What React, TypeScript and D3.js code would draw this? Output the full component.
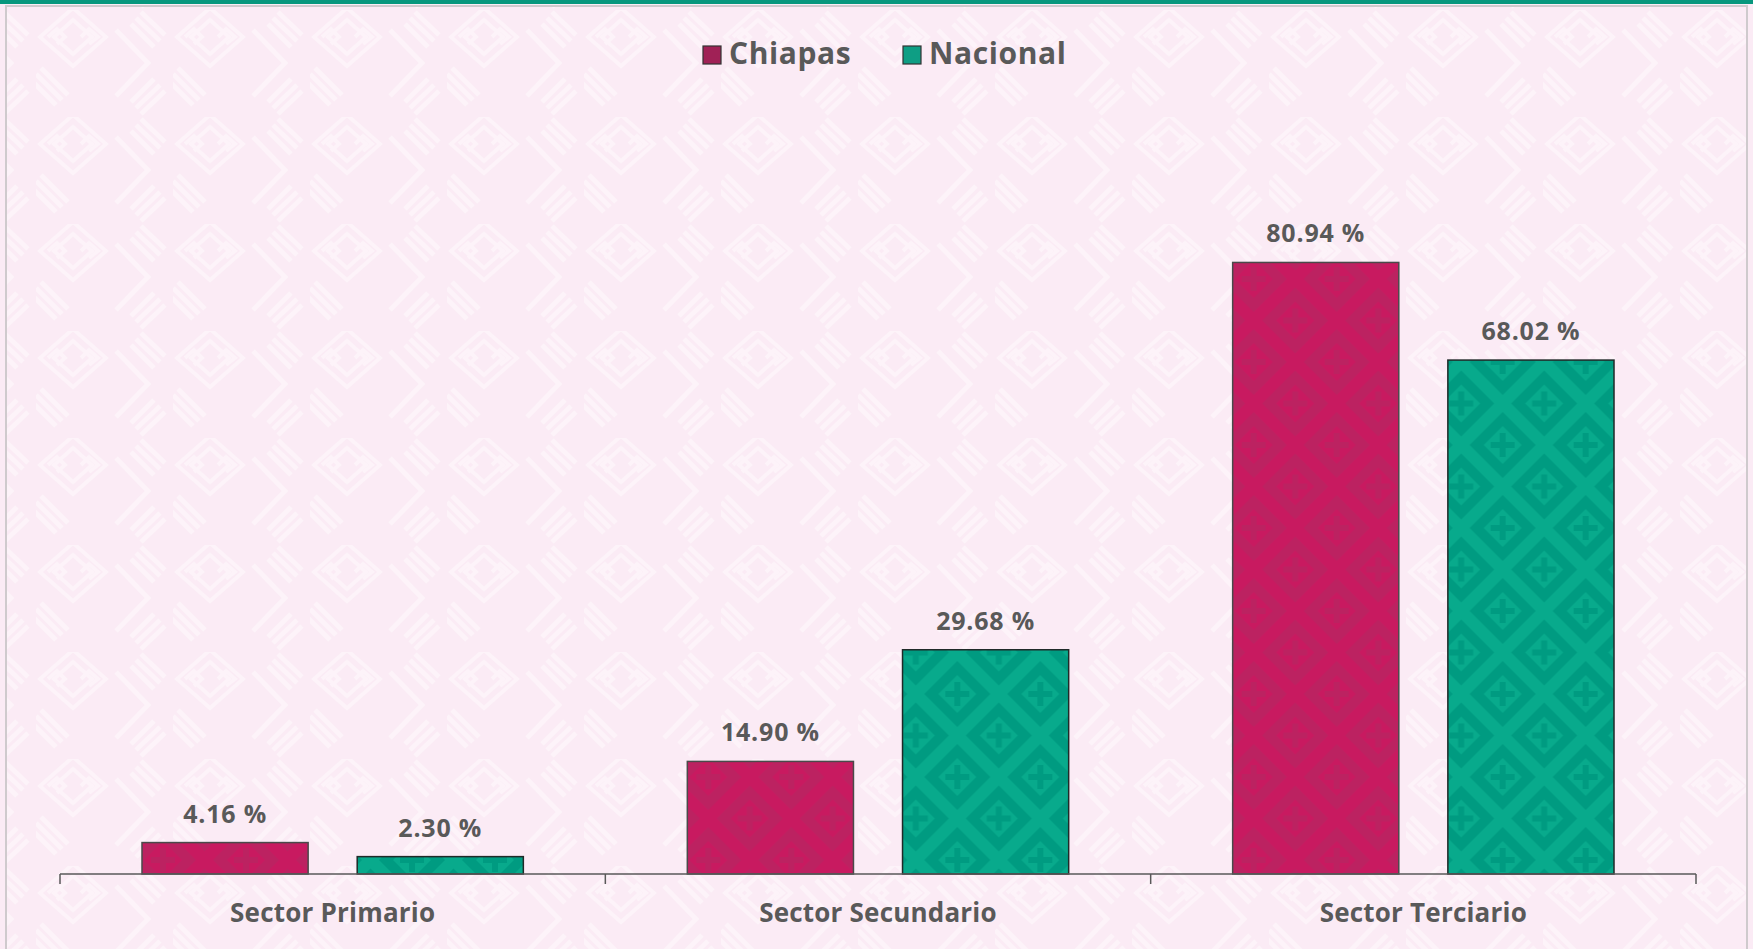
import React, { useEffect, useRef } from "react";
import * as d3 from "d3";

// data
const categories = ["Sector Primario", "Sector Secundario", "Sector Terciario"];
const series = ["Chiapas", "Nacional"];
const chiapasValues = [4.16, 14.9, 80.94];
const nacionalValues = [2.3, 29.68, 68.02];

const W = 1753;
const H = 949;
const FONT = "'Open Sans', Lato, sans-serif";
const TEXT = "#595959";

const barColors: Record<string, { dark: string; light: string; legend: string }> = {
  Chiapas: { dark: "#BC2261", light: "#C81A60", legend: "#A02156" },
  Nacional: { dark: "#009B81", light: "#08AA8C", legend: "#0E9E84" },
};

const App = () => {
  const ref = useRef<SVGSVGElement>(null);

  useEffect(() => {
    document.body.style.margin = "0";
    const svg = d3.select(ref.current);
    svg.selectAll("*").remove();
    svg.attr("width", W).attr("height", H);

    const defs = svg.append("defs");

    // faint background fret pattern
    const bg = defs
      .append("pattern")
      .attr("id", "bgPat")
      .attr("patternUnits", "userSpaceOnUse")
      .attr("width", 137)
      .attr("height", 107)
      .attr("x", 36)
      .attr("y", 10);
    bg.append("rect").attr("width", 137).attr("height", 107).attr("fill", "#FBEBF5");
    const stroke = "#FDF3F9";
    const g0 = bg.append("g").attr("fill", "none").attr("stroke", stroke).attr("stroke-width", 4);
    // fret diamond
    g0.append("path").attr("d", "M4,27 L37,-2 L70,27 L37,56 Z");
    g0.append("path").attr("d", "M18,27 L37,10 L56,27 L37,44 Z");
    g0.append("path").attr("d", "M12,27 L21,19 L29,27 L21,34 M45,27 L53,19 L62,27 L53,34");
    // chevron stripes
    const g1 = bg.append("g").attr("fill", "none").attr("stroke", stroke).attr("stroke-width", 5);
    g1.append("path").attr("d", "M80,20 L112,53 L80,86");
    g1.append("path").attr("d", "M95,14 L118,37 M100,8 L124,31 M105,2 L129,25");
    g1.append("path").attr("d", "M95,92 L118,69 M100,98 L124,75 M105,104 L129,81");
    g1.append("path").attr("d", "M-5,70 L20,95 M0,64 L26,90 M5,58 L32,85");

    // bar patterns: diamond lattice with crosses
    series.forEach((s) => {
      const c = barColors[s];
      const p = defs
        .append("pattern")
        .attr("id", "pat" + s)
        .attr("patternUnits", "userSpaceOnUse")
        .attr("width", 83)
        .attr("height", 83)
        .attr("x", 20)
        .attr("y", 30);
      p.append("rect").attr("width", 83).attr("height", 83).attr("fill", c.light);
      const centers = [
        [0, 0], [83, 0], [0, 83], [83, 83], [41.5, 41.5],
      ];
      centers.forEach(([cx, cy]) => {
        const d = (r: number) => `M${cx - r},${cy} L${cx},${cy - r} L${cx + r},${cy} L${cx},${cy + r} Z`;
        p.append("path").attr("d", d(33)).attr("fill", c.dark);
        p.append("path").attr("d", d(19)).attr("fill", c.light);
        p.append("path")
          .attr("d", `M${cx - 12},${cy - 3} h9 v-9 h6 v9 h9 v6 h-9 v9 h-6 v-9 h-9 Z`)
          .attr("fill", c.dark);
      });
    });

    // background + frame
    svg.append("rect").attr("x", 0).attr("y", 0).attr("width", W).attr("height", H).attr("fill", "#FBEBF5");
    svg.append("rect")
      .attr("x", 6).attr("y", 6).attr("width", W - 12).attr("height", H)
      .attr("fill", "url(#bgPat)")
      .attr("stroke", "#CFCACD").attr("stroke-width", 2);
    svg.append("rect").attr("x", 0).attr("y", 0).attr("width", W).attr("height", 4).attr("fill", "#07977D");

    // scales
    const x0 = d3.scaleBand().domain(categories).range([60, 1696]).paddingInner(0).paddingOuter(0);
    const x1 = d3.scaleBand().domain(series).range([0, x0.bandwidth()]).paddingInner(0.228).paddingOuter(0.381);
    const y = d3.scaleLinear().domain([0, 90]).range([874, 194]);

    const rows = categories.map((c, i) => ({
      cat: c,
      vals: [
        { key: "Chiapas", value: chiapasValues[i] },
        { key: "Nacional", value: nacionalValues[i] },
      ],
    }));

    const groups = svg
      .selectAll("g.cat")
      .data(rows)
      .enter()
      .append("g")
      .attr("class", "cat")
      .attr("transform", (d) => `translate(${x0(d.cat)},0)`);

    groups
      .selectAll("rect")
      .data((d) => d.vals)
      .enter()
      .append("rect")
      .attr("x", (d) => x1(d.key)!)
      .attr("y", (d) => y(d.value))
      .attr("width", x1.bandwidth())
      .attr("height", (d) => y(0) - y(d.value))
      .attr("fill", (d) => `url(#pat${d.key})`)
      .attr("stroke", (d) => (d.key === "Chiapas" ? "#4A4A4A" : "#1F2A28"))
      .attr("stroke-width", 1.5);

    groups
      .selectAll("text.val")
      .data((d) => d.vals)
      .enter()
      .append("text")
      .attr("class", "val")
      .attr("x", (d) => x1(d.key)! + x1.bandwidth() / 2)
      .attr("y", (d) => y(d.value) - 20)
      .attr("text-anchor", "middle")
      .attr("font-family", FONT)
      .attr("font-weight", 700)
      .attr("font-size", 25)
      .attr("letter-spacing", 0.8)
      .attr("fill", TEXT)
      .text((d) => d3.format(".2f")(d.value) + " %");

    // x axis
    const axis = svg.append("g").attr("transform", `translate(0,${y(0)})`);
    axis.append("line").attr("x1", 60).attr("x2", 1696).attr("stroke", TEXT).attr("stroke-width", 1.5);
    const edges = [...categories.map((c) => x0(c)!), 1696];
    axis.selectAll("line.edge")
      .data(edges)
      .enter()
      .append("line")
      .attr("class", "edge")
      .attr("x1", (d) => d).attr("x2", (d) => d)
      .attr("y1", 0).attr("y2", 10)
      .attr("stroke", TEXT).attr("stroke-width", 1.5);
    axis.selectAll("text.cat")
      .data(categories)
      .enter()
      .append("text")
      .attr("class", "cat")
      .attr("x", (d) => x0(d)! + x0.bandwidth() / 2)
      .attr("y", 48)
      .attr("text-anchor", "middle")
      .attr("font-family", FONT)
      .attr("font-weight", 700)
      .attr("font-size", 26)
      .attr("letter-spacing", 0.2)
      .attr("fill", TEXT)
      .text((d) => d);

    // legend
    const legend = svg.append("g").attr("transform", "translate(703,46)");
    const legendX = [0, 200];
    series.forEach((s, i) => {
      const lg = legend.append("g").attr("transform", `translate(${legendX[i]},0)`);
      lg.append("rect").attr("width", 18).attr("height", 18)
        .attr("fill", barColors[s].legend).attr("stroke", "#333").attr("stroke-width", 1.2);
      lg.append("text").attr("x", 26).attr("y", 18)
        .attr("font-family", FONT).attr("font-weight", 700).attr("font-size", 30)
        .attr("letter-spacing", 0.6)
        .attr("fill", TEXT).text(s);
    });
  }, []);

  return <svg ref={ref} style={{ display: "block" }}></svg>;
};

export default App;
